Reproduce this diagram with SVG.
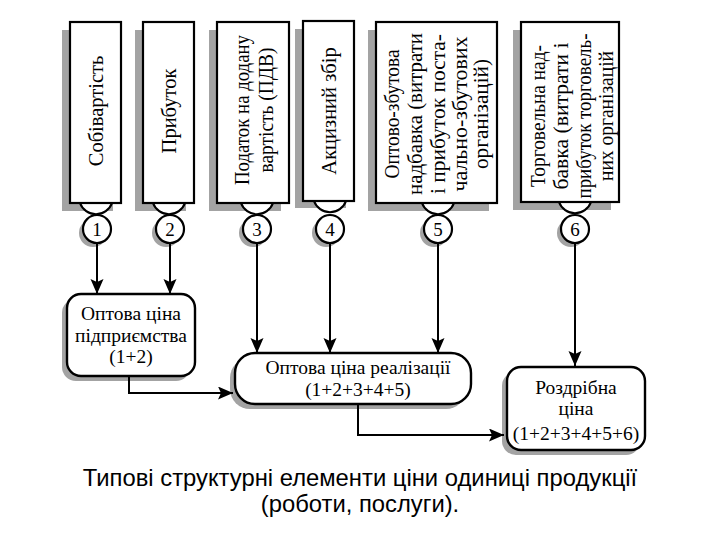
<svg xmlns="http://www.w3.org/2000/svg" width="720" height="540" viewBox="0 0 720 540">
<defs>
<marker id="ah" markerUnits="userSpaceOnUse" markerWidth="16" markerHeight="14" refX="15" refY="6.5" orient="auto">
<path d="M0,0 L15,6.5 L0,13 L3,6.5 z" fill="#000"/>
</marker>
</defs>
<style>
.bx{fill:#fff;stroke:#000;stroke-width:2.2}
.sh{fill:#a3a3a3;stroke:none}
.rb{fill:#fff;stroke:#000;stroke-width:2.4}
.t{font-family:"Liberation Serif","Times New Roman",serif;font-size:19.5px;fill:#000;text-anchor:middle}
.v{font-family:"Liberation Serif","Times New Roman",serif;font-size:20.5px;fill:#000;text-anchor:middle}
.n{font-family:"Liberation Serif","Times New Roman",serif;font-size:19px;fill:#000;text-anchor:middle}
.cap{font-family:"Liberation Sans",Arial,sans-serif;font-size:23.8px;fill:#000;text-anchor:middle}
.ln{fill:none;stroke:#000;stroke-width:2;marker-end:url(#ah)}
</style>
<rect width="720" height="540" fill="#fff"/>

<g id="n1">
<rect class="sh" x="62" y="30" width="51" height="181"/>
<path class="bx" d="M80,203 A17,17 0 0 0 112,203"/>
<rect class="bx" x="70" y="22" width="51" height="181"/>
<text class="v" transform="translate(96,111) rotate(-90)" y="7">Собівартість</text>
<circle class="sh" cx="93" cy="233" r="14"/>
<circle class="bx" cx="97" cy="229" r="14"/>
<text class="n" x="97" y="235.5">1</text>
</g>

<g id="n2">
<rect class="sh" x="135" y="30" width="51" height="181"/>
<path class="bx" d="M153,203 A17,17 0 0 0 185,203"/>
<rect class="bx" x="143" y="22" width="51" height="181"/>
<text class="v" transform="translate(168.5,111) rotate(-90)" y="7">Прибуток</text>
<circle class="sh" cx="166" cy="233" r="14"/>
<circle class="bx" cx="170" cy="229" r="14"/>
<text class="n" x="170" y="235.5">2</text>
</g>

<g id="n3">
<rect class="sh" x="209" y="30" width="72" height="181"/>
<path class="bx" d="M241,203 A17,17 0 0 0 273,203"/>
<rect class="bx" x="217" y="22" width="72" height="181"/>
<text class="v" transform="translate(253,110) rotate(-90)"><tspan x="0" y="-4" textLength="150" lengthAdjust="spacingAndGlyphs">Податок на додану</tspan><tspan x="0" y="20" textLength="125" lengthAdjust="spacingAndGlyphs">вартість (ПДВ)</tspan></text>
<circle class="sh" cx="253" cy="233" r="14"/>
<circle class="bx" cx="257" cy="229" r="14"/>
<text class="n" x="257" y="235.5">3</text>
</g>

<g id="n4">
<rect class="sh" x="295" y="29" width="51" height="179"/>
<path class="bx" d="M314,201 A17,17 0 0 0 346,201"/>
<rect class="bx" x="303" y="21" width="51" height="180"/>
<text class="v" transform="translate(328.5,111) rotate(-90)" y="7">Акцизний збір</text>
<circle class="sh" cx="326" cy="233" r="14"/>
<circle class="bx" cx="330" cy="229" r="14"/>
<text class="n" x="330" y="235.5">4</text>
</g>

<g id="n5">
<rect class="sh" x="368" y="30" width="121" height="181"/>
<path class="bx" d="M422,203 A17,17 0 0 0 454,203"/>
<rect class="bx" x="376" y="22" width="121" height="181"/>
<text class="v" transform="translate(436.5,114) rotate(-90)"><tspan x="0" y="-37.5" textLength="129" lengthAdjust="spacingAndGlyphs">Оптово-збутова</tspan><tspan x="0" y="-14.5" textLength="162" lengthAdjust="spacingAndGlyphs">надбавка (витрати</tspan><tspan x="0" y="8" textLength="160" lengthAdjust="spacingAndGlyphs">і прибуток поста-</tspan><tspan x="0" y="30" textLength="155" lengthAdjust="spacingAndGlyphs">чально-збутових</tspan><tspan x="0" y="51.5" textLength="110" lengthAdjust="spacingAndGlyphs">організацій)</tspan></text>
<circle class="sh" cx="434" cy="233" r="14"/>
<circle class="bx" cx="438" cy="229" r="14"/>
<text class="n" x="438" y="235.5">5</text>
</g>

<g id="n6">
<rect class="sh" x="513" y="30" width="98" height="180"/>
<path class="bx" d="M559,202 A17,17 0 0 0 591,202"/>
<rect class="bx" x="521" y="22" width="98" height="180"/>
<text class="v" transform="translate(570,116) rotate(-90)"><tspan x="0" y="-25" textLength="142" lengthAdjust="spacingAndGlyphs">Торговельна над-</tspan><tspan x="0" y="-2" textLength="147" lengthAdjust="spacingAndGlyphs">бавка (витрати і</tspan><tspan x="0" y="21" textLength="165" lengthAdjust="spacingAndGlyphs">прибуток торговель-</tspan><tspan x="0" y="43" textLength="130" lengthAdjust="spacingAndGlyphs">них організацій</tspan></text>
<circle class="sh" cx="571" cy="233" r="14"/>
<circle class="bx" cx="575" cy="229" r="14"/>
<text class="n" x="575" y="235.5">6</text>
</g>

<g id="pA">
<rect class="sh" x="62" y="299" width="128" height="82" rx="14"/>
<rect class="rb" x="67" y="294" width="128" height="82" rx="14"/>
<text class="t" x="131" y="320">Оптова ціна</text>
<text class="t" x="131" y="342">підприємства</text>
<text class="t" x="131" y="363">(1+2)</text>
</g>

<g id="pB">
<rect class="sh" x="230" y="358" width="236" height="51" rx="20"/>
<rect class="rb" x="235" y="353" width="236" height="51" rx="20"/>
<text class="t" x="358" y="374">Оптова ціна реалізації</text>
<text class="t" x="358" y="396">(1+2+3+4+5)</text>
</g>

<g id="pC">
<rect class="sh" x="502" y="372" width="138" height="83" rx="14"/>
<rect class="rb" x="507" y="367" width="138" height="83" rx="14"/>
<text class="t" x="576" y="394">Роздрібна</text>
<text class="t" x="576" y="415">ціна</text>
<text class="t" x="576" y="440">(1+2+3+4+5+6)</text>
</g>

<g id="connectors">
<path class="ln" d="M97,243 V294"/>
<path class="ln" d="M170,243 V294"/>
<path class="ln" d="M257,243 V353"/>
<path class="ln" d="M330,243 V353"/>
<path class="ln" d="M438,243 V353"/>
<path class="ln" d="M575,243 V366"/>
<path class="ln" d="M129,376 V393 H233"/>
<path class="ln" d="M358,404 V435 H504"/>
</g>

<g id="caption">
<text class="cap" x="360" y="486">Типові структурні елементи ціни одиниці продукції</text>
<text class="cap" x="360" y="512">(роботи, послуги).</text>
</g>
</svg>
